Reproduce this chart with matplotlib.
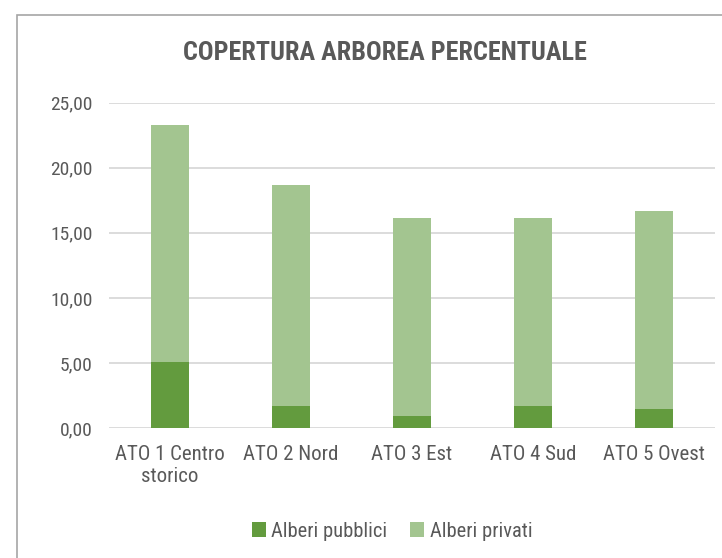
import matplotlib
matplotlib.use('Agg')
import matplotlib.pyplot as plt
from matplotlib.patches import Rectangle
from matplotlib.ticker import FuncFormatter

# dati
categorie = ['ATO 1 Centro\nstorico', 'ATO 2 Nord', 'ATO 3 Est', 'ATO 4 Sud', 'ATO 5 Ovest']
pubblici = [5.1, 1.7, 0.9, 1.7, 1.45]
totale = [23.3, 18.65, 16.1, 16.1, 16.65]
privati = [t - p for t, p in zip(totale, pubblici)]

plt.rcParams['font.family'] = ['Roboto Condensed', 'Liberation Sans Narrow', 'DejaVu Sans']
plt.rcParams['font.stretch'] = 'condensed'
testo = '#595959'

fig = plt.figure(figsize=(7.22, 5.58), dpi=100)
ax = fig.add_axes([0.151, 0.233, 0.839, 0.583])

x = range(len(categorie))
ax.bar(x, pubblici, width=0.315, color='#639B3E', label='Alberi pubblici', zorder=3)
ax.bar(x, privati, width=0.315, bottom=pubblici, color='#A3C590', label='Alberi privati', zorder=3)

ax.set_ylim(0, 25)
ax.set_xlim(-0.5, 4.5)
ax.set_yticks([0, 5, 10, 15, 20, 25])
ax.yaxis.set_major_formatter(FuncFormatter(lambda v, p: f'{v:.2f}'.replace('.', ',')))
ax.set_xticks(list(x))
ax.set_xticklabels(categorie)
ax.grid(axis='y', color='#D9D9D9', linewidth=1.3, zorder=0)
for s in ax.spines.values():
    s.set_visible(False)
ax.tick_params(length=0, colors=testo)
ax.tick_params(axis='y', pad=12, labelsize=14)
ax.tick_params(axis='x', pad=12, labelsize=15)

fig.text(0.533, 0.905, 'COPERTURA ARBOREA PERCENTUALE', ha='center', va='center',
         fontsize=18.8, fontweight='bold', color=testo)

fig.legend(loc='center', bbox_to_anchor=(0.543, 0.048), ncol=2, frameon=False,
           fontsize=14.8, labelcolor=testo, handlelength=0.7, handleheight=0.7,
           handletextpad=0.25, columnspacing=1.1)

# cornice del grafico
fig.patches.append(Rectangle((17 / 722, -0.1), 1.2, 1 - 15 / 558 + 0.1,
                             transform=fig.transFigure, fill=False,
                             edgecolor='#A6A6A6', linewidth=1.2))

fig.savefig('out.png', dpi=100)
